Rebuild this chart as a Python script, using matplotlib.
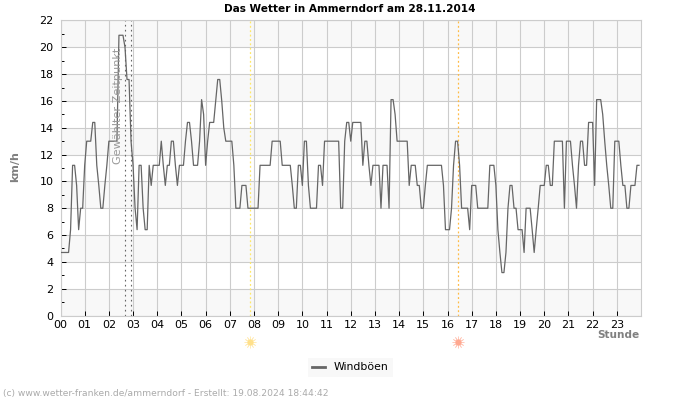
"""Windboeen-Tagesverlauf Ammerndorf, 5-Minuten-Werte."""

import matplotlib

matplotlib.use("Agg")
import matplotlib.pyplot as plt
import numpy as np

# one row per hour, 12 values of 5 minutes each (km/h)
GUSTS = [
    4.7, 4.7, 4.7, 4.7, 4.7, 6.4, 11.2, 11.2, 9.7, 6.4, 8, 8,
    11.2, 13, 13, 13, 14.4, 14.4, 11.2, 9.7, 8, 8, 9.7, 11.2,
    13, 13, 13, 13, 13, 20.9, 20.9, 20.9, 20, 17.6, 17.6, 13,
    11.2, 8, 6.4, 11.2, 11.2, 8, 6.4, 6.4, 11.2, 9.7, 11.2, 11.2,
    11.2, 11.2, 13, 11.2, 9.7, 11.2, 11.2, 13, 13, 11.2, 9.7, 11.2,
    11.2, 11.2, 13, 14.4, 14.4, 13, 11.2, 11.2, 11.2, 13, 16.1, 15,
    11.2, 13, 14.4, 14.4, 14.4, 16, 17.6, 17.6, 16, 14, 13, 13,
    13, 13, 11.2, 8, 8, 8, 9.7, 9.7, 9.7, 8, 8, 8,
    8, 8, 8, 11.2, 11.2, 11.2, 11.2, 11.2, 11.2, 13, 13, 13,
    13, 13, 11.2, 11.2, 11.2, 11.2, 11.2, 9.7, 8, 8, 11.2, 11.2,
    9.7, 13, 13, 9.7, 8, 8, 8, 8, 11.2, 11.2, 9.7, 13,
    13, 13, 13, 13, 13, 13, 13, 8, 8, 13, 14.4, 14.4,
    13, 14.4, 14.4, 14.4, 14.4, 14.4, 11.2, 13, 13, 11.2, 9.7, 11.2,
    11.2, 11.2, 11.2, 8, 11.2, 11.2, 11.2, 8, 16.1, 16.1, 15, 13,
    13, 13, 13, 13, 13, 9.7, 11.2, 11.2, 11.2, 9.7, 9.7, 8,
    8, 9.7, 11.2, 11.2, 11.2, 11.2, 11.2, 11.2, 11.2, 11.2, 9.7, 6.4,
    6.4, 6.4, 8, 11.2, 13, 13, 11.2, 8, 8, 8, 8, 6.4,
    9.7, 9.7, 9.7, 8, 8, 8, 8, 8, 8, 11.2, 11.2, 11.2,
    9.7, 6.4, 4.7, 3.2, 3.2, 4.7, 8, 9.7, 9.7, 8, 8, 6.4,
    6.4, 6.4, 4.7, 8, 8, 8, 6.4, 4.7, 6.4, 8, 9.7, 9.7,
    9.7, 11.2, 11.2, 9.7, 9.7, 13, 13, 13, 13, 13, 8, 13,
    13, 13, 11.2, 9.7, 8, 11.2, 13, 13, 11.2, 11.2, 14.4, 14.4,
    14.4, 9.7, 16.1, 16.1, 16.1, 15, 13, 11.2, 9.7, 8, 8, 13,
    13, 13, 11.2, 9.7, 9.7, 8, 8, 9.7, 9.7, 9.7, 11.2, 11.2,
]
HOUR_LABELS = [f"{hour:02d}" for hour in range(24)]
Y_TICKS = list(range(0, 23, 2))
SELECTED_HOURS = [2.68, 2.93]
SUNRISE = 7.85
SUNSET = 16.45

GRID = "#cccccc"
BAND = "#f8f8f8"
LABEL_GREY = "#808080"

fig = plt.figure(figsize=(7, 4), dpi=100)
ax = fig.add_axes([60.5 / 700, 1 - 315.5 / 400, 580.5 / 700, 295 / 400])

hours = np.arange(len(GUSTS)) / 12
ax.set_xlim(0, 24)
ax.set_ylim(0, 22)
ax.set_axisbelow(True)

for low in range(0, 22, 4):
    ax.axhspan(low, low + 2, color=BAND, lw=0, zorder=0)

ax.set_xticks(range(24))
ax.set_xticklabels(HOUR_LABELS)
ax.set_yticks(Y_TICKS)
ax.set_yticks(range(1, 22, 2), minor=True)
ax.grid(True, which="major", color=GRID, linewidth=0.8, zorder=1)
ax.tick_params(axis="both", which="major", direction="in", length=3.6, width=0.7,
               color="black", labelsize=8)
ax.tick_params(axis="x", which="major", pad=3)
ax.tick_params(axis="y", which="major", pad=5)
ax.tick_params(axis="y", which="minor", direction="in", length=2.2, width=0.7, color="black")
for spine in ax.spines.values():
    spine.set_color(GRID)
    spine.set_linewidth(0.8)

line, = ax.plot(hours, GUSTS, color="#666666", linewidth=0.9, zorder=3)

for hour in SELECTED_HOURS:
    ax.axvline(hour, color="#666666", linestyle=(0, (1.5, 3)), linewidth=0.8, zorder=2)
ax.axvline(SUNRISE, color="#ffe866", linestyle=(0, (1.5, 2)), linewidth=0.9, zorder=2)
ax.axvline(SUNSET, color="#ffbb44", linestyle=(0, (1.5, 2)), linewidth=0.9, zorder=2)

ax.text(2.38, 15.6, "Gewählter Zeitpunkt", rotation=90, color="#999999", fontsize=8.1,
        ha="center", va="center", zorder=4)

# sun symbols below the axis
sun_trans = ax.get_xaxis_transform()
for hour, color in ((SUNRISE, "#ffe08a"), (SUNSET, "#ffa890")):
    ax.plot([hour], [-0.09], marker="o", markersize=4.5, color=color, clip_on=False,
            transform=sun_trans, markeredgewidth=0)
    ax.plot([hour], [-0.09], marker=(12, 2, 0), markersize=8.5, color=color, clip_on=False,
            transform=sun_trans, markeredgewidth=0.5, alpha=0.6)

fig.text(349.5 / 700, 1 - 8.5 / 400, "Das Wetter in Ammerndorf am 28.11.2014", fontsize=7.6,
         fontweight="bold", ha="center", va="center", color="black")
fig.text(15.5 / 700, 1 - 167 / 400, "km/h", fontsize=8, fontweight="bold", rotation=90,
         ha="center", va="center", color=LABEL_GREY)
fig.text(639 / 700, 1 - 334.5 / 400, "Stunde", fontsize=7.6, fontweight="bold",
         ha="right", va="center", color=LABEL_GREY)
fig.text(3 / 700, 1 - 393.5 / 400,
         "(c) www.wetter-franken.de/ammerndorf - Erstellt: 19.08.2024 18:44:42",
         fontsize=6.6, ha="left", va="center", color="#aaaaaa")

legend = fig.legend([line], ["Windböen"], loc="center", bbox_to_anchor=(350.5 / 700, 1 - 367.5 / 400),
                    fontsize=7.8, frameon=True, facecolor=BAND, edgecolor="none", fancybox=False,
                    handlelength=1.2, handletextpad=0.8, borderpad=0.4, framealpha=1)
legend.get_lines()[0].set_linewidth(2)

fig.savefig("out.png", dpi=100)
plt.close(fig)
